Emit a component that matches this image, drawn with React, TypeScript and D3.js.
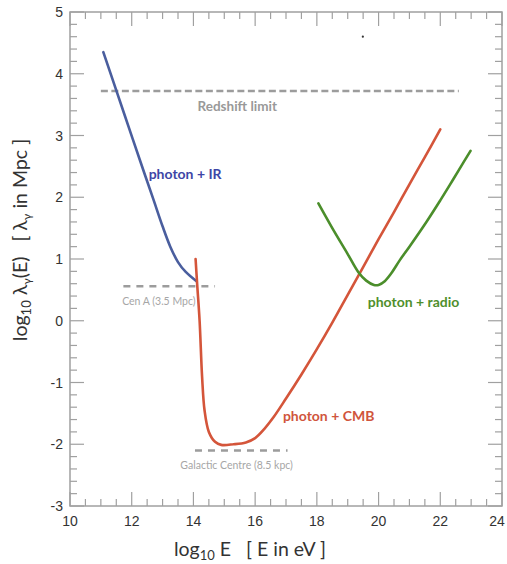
import { useEffect, useRef } from "react";
import * as d3 from "d3";

// log10 E [eV] vs log10 lambda [Mpc]
const irE = [11.08, 11.5, 11.9, 12.3, 12.7, 13.0, 13.25, 13.5, 13.75, 14.1];
const irL = [4.35, 3.73, 3.14, 2.55, 1.97, 1.53, 1.2, 0.95, 0.79, 0.64];

const cmbE = [14.07, 14.12, 14.2, 14.28, 14.36, 14.5, 14.7, 14.9, 15.3, 15.7, 16.0, 16.3, 16.6, 17.0, 17.5, 18.0, 18.5, 19.0, 19.5, 20.0, 20.5, 21.0, 21.5, 22.0];
const cmbL = [1.0, 0.6, 0.0, -0.9, -1.45, -1.8, -1.96, -2.01, -2.0, -1.97, -1.9, -1.75, -1.56, -1.26, -0.87, -0.46, -0.03, 0.42, 0.87, 1.32, 1.76, 2.21, 2.65, 3.1];

const radioE = [18.05, 18.5, 19.0, 19.34, 19.6, 19.85, 20.0, 20.2, 20.4, 20.7, 21.0, 21.55, 22.0, 22.31, 22.6, 22.98];
const radioL = [1.9, 1.5, 1.08, 0.79, 0.65, 0.58, 0.58, 0.64, 0.76, 0.99, 1.2, 1.6, 1.95, 2.2, 2.44, 2.75];

const refLines = [
  { name: "Redshift limit", y: 3.72, x0: 11.0, x1: 22.6, labelE: 15.42, big: true },
  { name: "Cen A (3.5 Mpc)", y: 0.56, x0: 11.73, x1: 14.7, labelE: 12.88, big: false },
  { name: "Galactic Centre (8.5 kpc)", y: -2.1, x0: 14.05, x1: 17.05, labelE: 15.4, big: false },
];

const xTicks = [10, 12, 14, 16, 18, 20, 22, 24];
const yTicks = [-3, -2, -1, 0, 1, 2, 3, 4, 5];

const sp = "\u00a0";

export default function App() {
  const ref = useRef<SVGSVGElement>(null);

  useEffect(() => {
    const svg = d3.select(ref.current);
    svg.selectAll("*").remove();

    const x = d3.scaleLinear().domain([10, 24]).range([70, 502]);
    const y = d3.scaleLinear().domain([-3, 5]).range([506, 12]);
    const frame = "#a0a0a0";

    // ticks (inward on all four sides)
    const g = svg.append("g").attr("stroke", frame).attr("stroke-width", 1.2);
    d3.range(10, 24.01, 0.5).forEach((v) => {
      const major = Math.abs(v % 2) < 1e-6;
      const len = major ? 14 : 7;
      g.append("line").attr("x1", x(v)).attr("x2", x(v)).attr("y1", y(-3)).attr("y2", y(-3) - len);
      g.append("line").attr("x1", x(v)).attr("x2", x(v)).attr("y1", y(5)).attr("y2", y(5) + len);
    });
    d3.range(-3, 5.001, 0.2).forEach((v) => {
      const major = Math.abs(v - Math.round(v)) < 1e-6;
      const len = major ? 14 : 7;
      g.append("line").attr("y1", y(v)).attr("y2", y(v)).attr("x1", x(10)).attr("x2", x(10) + len);
      g.append("line").attr("y1", y(v)).attr("y2", y(v)).attr("x1", x(24)).attr("x2", x(24) - len);
    });
    svg.append("rect")
      .attr("x", x(10)).attr("y", y(5))
      .attr("width", x(24) - x(10)).attr("height", y(-3) - y(5))
      .attr("fill", "none").attr("stroke", frame).attr("stroke-width", 1.5);

    // tick labels
    svg.append("g").selectAll("text").data(xTicks).join("text")
      .attr("x", (d) => x(d) - (d === 24 ? 5 : 0)).attr("y", 526)
      .attr("text-anchor", "middle")
      .attr("font-family", "Liberation Sans, Arial, sans-serif")
      .attr("font-size", 14).attr("fill", "#333")
      .text((d) => d);
    svg.append("g").selectAll("text").data(yTicks).join("text")
      .attr("x", 63).attr("y", (d) => y(d) + 5)
      .attr("text-anchor", "end")
      .attr("font-family", "Liberation Sans, Arial, sans-serif")
      .attr("font-size", 14).attr("fill", "#333")
      .text((d) => d);

    // reference dashed lines
    refLines.forEach((r) => {
      svg.append("line")
        .attr("x1", x(r.x0)).attr("x2", x(r.x1))
        .attr("y1", y(r.y)).attr("y2", y(r.y))
        .attr("stroke", "#9c9c9c").attr("stroke-width", 2.5)
        .attr("stroke-dasharray", r.big ? "7,3.5" : "7,6");
      svg.append("text")
        .attr("x", x(r.labelE))
        .attr("y", y(r.y) + (r.big ? 20 : 19))
        .attr("text-anchor", "middle")
        .attr("font-family", "Lato, sans-serif")
        .attr("font-weight", r.big ? "bold" : "normal")
        .attr("font-size", r.big ? 13.5 : 10.5)
        .attr("fill", r.big ? "#999" : "#a6a6a6")
        .text(r.name);
    });

    const line = d3.line<[number, number]>()
      .x((d) => x(d[0])).y((d) => y(d[1]))
      .curve(d3.curveCatmullRom.alpha(0.5));

    const curves = [
      { E: irE, L: irL, color: "#4a5e9e" },
      { E: cmbE, L: cmbL, color: "#d4553a" },
      { E: radioE, L: radioL, color: "#4b8e2b" },
    ];
    curves.forEach((c) => {
      svg.append("path")
        .datum(c.E.map((e, i) => [e, c.L[i]] as [number, number]))
        .attr("d", line)
        .attr("fill", "none").attr("stroke", c.color)
        .attr("stroke-width", 2.6).attr("stroke-linecap", "round");
    });

    // series labels
    const labels = [
      { t: "photon + IR", e: 12.55, l: 2.3, color: "#3d45a6" },
      { t: "photon + radio", e: 19.65, l: 0.23, color: "#4f8f2c" },
      { t: "photon + CMB", e: 16.9, l: -1.62, color: "#d0553c" },
    ];
    svg.append("g").selectAll("text").data(labels).join("text")
      .attr("x", (d) => x(d.e)).attr("y", (d) => y(d.l))
      .attr("font-family", "Lato, sans-serif").attr("font-weight", "bold")
      .attr("font-size", 14).attr("fill", (d) => d.color)
      .text((d) => d.t);

    // stray dot in the original
    svg.append("circle").attr("cx", x(19.49)).attr("cy", y(4.6)).attr("r", 1.1).attr("fill", "#333");

    // axis titles
    const xt = svg.append("text")
      .attr("x", 250).attr("y", 556).attr("text-anchor", "middle")
      .attr("font-family", "Lato, sans-serif").attr("font-size", 19.5).attr("fill", "#333");
    xt.append("tspan").text("log");
    xt.append("tspan").attr("font-size", 13).attr("dy", 4).text("10");
    xt.append("tspan").attr("dy", -4).text(` E${sp}${sp}${sp}[ E in eV ]`);

    const yt = svg.append("text")
      .attr("transform", `translate(27,240) rotate(-90)`)
      .attr("text-anchor", "middle")
      .attr("font-family", "Lato, sans-serif").attr("font-size", 19.5).attr("fill", "#333");
    yt.append("tspan").text("log");
    yt.append("tspan").attr("font-size", 13).attr("dy", 4).text("10");
    yt.append("tspan").attr("dy", -4).text(" λ");
    yt.append("tspan").attr("font-size", 12).attr("dy", 4).text("γ");
    yt.append("tspan").attr("dy", -4).text(`(E)${sp}${sp}${sp}[ λ`);
    yt.append("tspan").attr("font-size", 12).attr("dy", 4).text("γ");
    yt.append("tspan").attr("dy", -4).text(" in Mpc ]");
  }, []);

  return (
    <div style={{ position: "absolute", left: 0, top: 0, width: 507, height: 564, background: "#fff" }}>
      <svg ref={ref} width={507} height={564}></svg>
    </div>
  );
}
